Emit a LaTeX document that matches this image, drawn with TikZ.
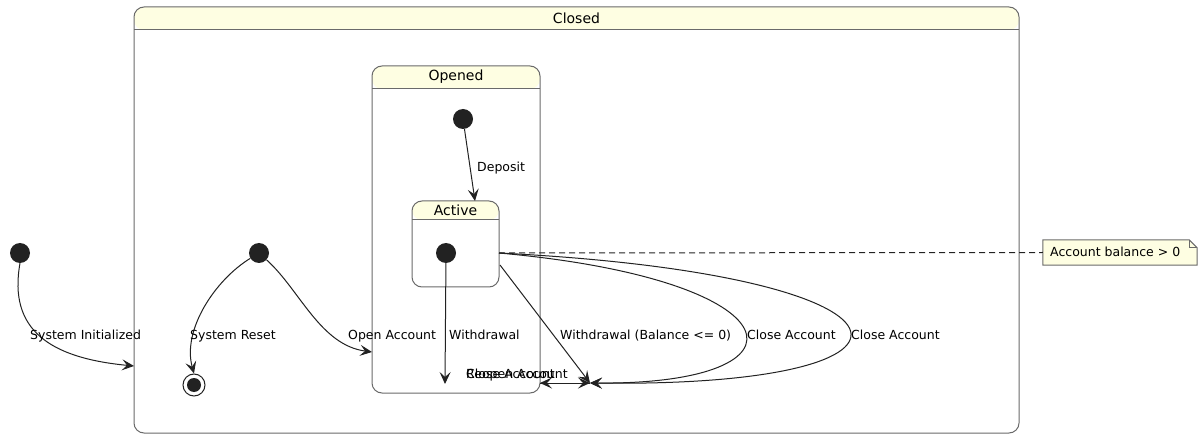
\documentclass[tikz,border=0pt]{standalone}
\usepackage{fontspec}
\setmainfont{DejaVu Sans}
\usetikzlibrary{arrows.meta}

\definecolor{statebg}{HTML}{FEFEE2}
\definecolor{statebd}{HTML}{6A6A6A}
\definecolor{dotc}{HTML}{222222}

\tikzset{
  statebox/.style={draw=statebd, line width=1pt, rounded corners=10pt, fill=white, inner sep=0pt,
    path picture={
      \fill[statebg] (path picture bounding box.north west) rectangle ([yshift=-#1]path picture bounding box.north east);
      \draw[statebd, line width=1pt] ([yshift=-#1]path picture bounding box.north west) -- ([yshift=-#1]path picture bounding box.north east);
    }},
  startdot/.style={circle, fill=dotc, minimum size=20pt, inner sep=0pt},
  title/.style={font=\fontsize{14}{16}\selectfont},
  lbl/.style={anchor=base west, inner sep=0pt, font=\fontsize{12.5}{15}\selectfont},
  trans/.style={draw=dotc, line width=1pt, -{Stealth[length=12pt,width=11pt,inset=5pt]}},
}

\begin{document}
\begin{tikzpicture}[x=1pt, y=-1pt]
  \useasboundingbox (0,0) rectangle (1202,438);

  % composite states
  \node[statebox=23pt, minimum width=885pt, minimum height=426pt] (closed) at (576.5,220) {};
  \node[title] (closedt) at ([yshift=-11.5pt]closed.north) {Closed};
  \node[statebox=23pt, minimum width=168pt, minimum height=327pt] (opened) at (456,229.5) {};
  \node[title] (openedt) at ([yshift=-11.5pt]opened.north) {Opened};
  \node[statebox=19pt, minimum width=87pt, minimum height=86pt] (active) at (455.5,244) {};
  \node[title] (activet) at ([yshift=-9.5pt]active.north) {Active};

  % pseudo states
  \node[startdot] (init0) at (20,253) {};
  \node[startdot] (init1) at (259,253) {};
  \node[startdot] (init2) at (463,119) {};
  \node[startdot] (init3) at (446,253) {};
  \node[circle, draw=dotc, line width=1pt, fill=white, minimum size=22pt, inner sep=0pt] (final) at (194,385) {};
  \node[circle, fill=dotc, minimum size=14pt, inner sep=0pt] (finaldot) at (final) {};

  % note
  \node[inner sep=0pt, minimum width=154pt, minimum height=25pt] (note) at (1120,252.5) {};
  \path[fill=statebg, draw=statebd, line width=1pt] (note.north west) -- ([xshift=-8pt]note.north east)
    -- ([yshift=-8pt]note.north east) -- (note.south east) -- (note.south west) -- cycle;
  \draw[statebd, line width=1pt] ([xshift=-8pt]note.north east) -- ([xshift=-8pt,yshift=-8pt]note.north east)
    -- ([yshift=-8pt]note.north east);
  \node[lbl] (notet) at (1050,257) {Account balance > 0};

  \coordinate (closedin) at (134,366);
  \coordinate (openedin) at (372,352);
  \coordinate (openedout) at (540,383);
  \coordinate (activein) at (475,201);
  \coordinate (activeout) at (499,253);
  \coordinate (activeout2) at (500,265);
  \coordinate (withdrawend) at (445,384);
  \coordinate (jn) at (590,383);

  % transitions
  \draw[trans] (init0.south) .. controls (8,330) and (50,358) .. (closedin);
  \draw[trans] (init1) .. controls (215,280) and (182,330) .. (final.north);
  \draw[trans] (init1) .. controls (300,290) and (320,345) .. (openedin);
  \draw[trans] (init2) -- (activein);
  \draw[trans] (init3) -- (withdrawend);
  \draw[trans] (activeout2) -- (jn);
  \draw[trans] (activeout) .. controls (800,280) and (820,385) .. (jn);
  \draw[trans] (activeout) .. controls (940,275) and (960,388) .. (jn);
  \draw[trans] (jn) -- (openedout);
  \draw[trans] (openedout) -- (jn);
  \draw[dotc, line width=1pt, dash pattern=on 6pt off 4pt] (activeout) -- (note.west);

  % labels
  \node[lbl] (l1) at (30,339.5) {System Initialized};
  \node[lbl] (l2) at (190,339.5) {System Reset};
  \node[lbl] (l3) at (348,339.5) {Open Account};
  \node[lbl] (l4) at (477,171.5) {Deposit};
  \node[lbl] (l5) at (449,339.5) {Withdrawal};
  \node[lbl] (l6) at (560,339.5) {Withdrawal (Balance <= 0)};
  \node[lbl] (l7) at (747,339.5) {Close Account};
  \node[lbl] (l8) at (851,339.5) {Close Account};
  \node[lbl] (l9) at (466,378.5) {Reopen Account};
  \node[lbl] (l10) at (466,378.5) {Close Account};
\end{tikzpicture}
\end{document}
